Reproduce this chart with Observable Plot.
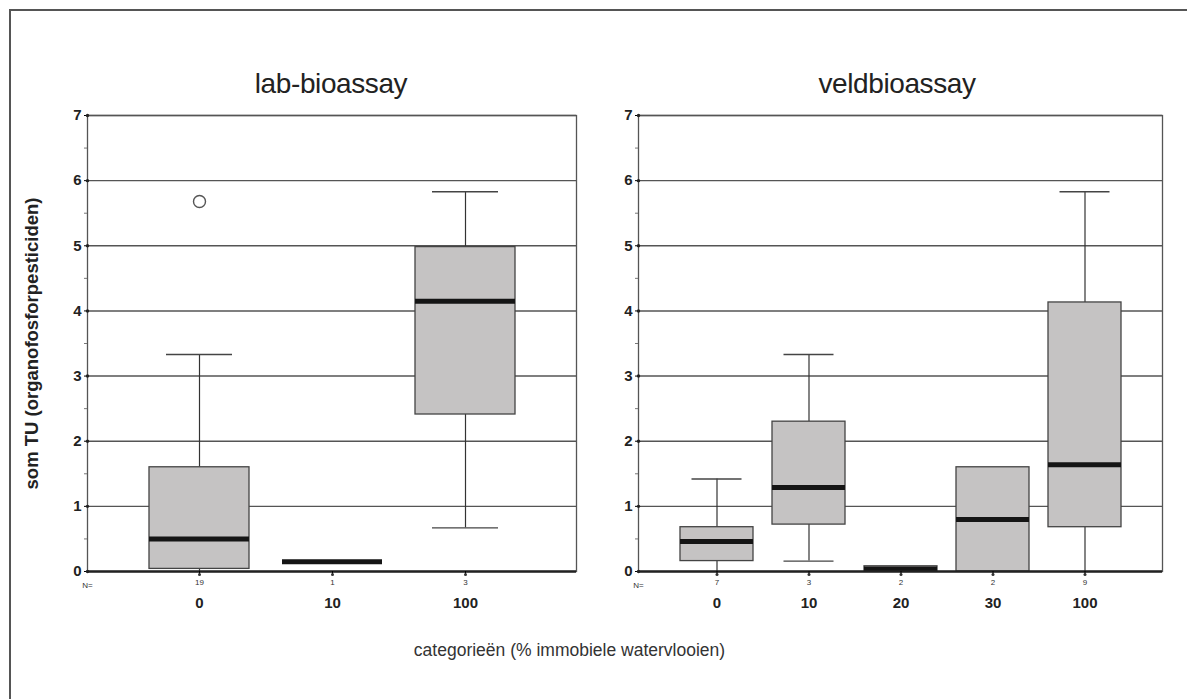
<!DOCTYPE html>
<html>
<head>
<meta charset="utf-8">
<script src="https://cdn.jsdelivr.net/npm/d3@7"></script>
<script src="https://cdn.jsdelivr.net/npm/@observablehq/plot@0.6"></script>
<style>
  html, body { margin: 0; padding: 0; background: #fff; }
  #wrap { position: relative; width: 1187px; height: 699px; overflow: hidden; background: #fff;
          font-family: "Liberation Sans", Arial, sans-serif; }
  #border { position: absolute; left: 9px; top: 9px; width: 1300px; height: 800px;
            border-left: 2px solid #555; border-top: 2px solid #555; }
  .title { position: absolute; top: 68px; font-size: 28px; color: #222; text-align: center;
           letter-spacing: -0.4px; }
  .panel { position: absolute; top: 100px; }
  #xlabel { position: absolute; left: 0; width: 1187px; top: 640px; text-align: center;
            font-size: 17.5px; color: #333; }
  #xlabel span { position: relative; left: -24px; }
</style>
</head>
<body>
<div id="wrap">
  <div id="border"></div>
  <div class="title" id="t1"></div>
  <div class="title" id="t2"></div>
  <div class="panel" id="p1" style="left:0px"></div>
  <div class="panel" id="p2" style="left:600px"></div>
  <div id="xlabel"><span></span></div>
</div>
<script>
// ---------- data ----------
const titles = ["lab-bioassay", "veldbioassay"];
const yLabel = "som TU (organofosforpesticiden)";
const xLabel = "categorieën (% immobiele watervlooien)";
const yTicks = [0, 1, 2, 3, 4, 5, 6, 7];
const yMinorTicks = [0.5, 1.5, 2.5, 3.5, 4.5, 5.5, 6.5];

// lab-bioassay
const labCats = ["0", "10", "100"];
const labN    = [19, 1, 3];
const labLo   = [0, 0.15, 0.67];
const labQ1   = [0.04, 0.15, 2.41];
const labMed  = [0.50, 0.15, 4.15];
const labQ3   = [1.60, 0.15, 4.98];
const labHi   = [3.33, 0.15, 5.83];
const labOutCats = ["0"];
const labOutVals = [5.68];

// veldbioassay
const veldCats = ["0", "10", "20", "30", "100"];
const veldN    = [7, 3, 2, 2, 9];
const veldLo   = [0, 0.16, 0, 0, 0];
const veldQ1   = [0.16, 0.72, 0, 0, 0.68];
const veldMed  = [0.46, 1.29, 0.04, 0.80, 1.64];
const veldQ3   = [0.68, 2.30, 0.08, 1.60, 4.13];
const veldHi   = [1.42, 3.33, 0.08, 1.60, 5.83];
const veldOutCats = [];
const veldOutVals = [];

// ---------- build ----------
function rowsOf(cats, n, lo, q1, med, q3, hi) {
  return cats.map((c, i) => ({cat: c, n: n[i], lo: lo[i], q1: q1[i], med: med[i], q3: q3[i], hi: hi[i]}));
}

function panel(o) {
  const rows = rowsOf(o.cats, o.n, o.lo, o.q1, o.med, o.q3, o.hi);
  const outs = o.outCats.map((c, i) => ({cat: c, v: o.outVals[i]}));
  const nOf = new Map(rows.map(d => [d.cat, d.n]));
  const marks = [
    Plot.frame({stroke: "#555", strokeWidth: 1.3}),
    Plot.ruleY(yTicks.filter(d => d > 0), {stroke: "#555", strokeWidth: 1.4}),
    Plot.ruleX(rows.filter(d => d.hi > d.q3), {x: "cat", y1: "q3", y2: "hi", stroke: "#333", strokeWidth: 1.2}),
    Plot.ruleX(rows.filter(d => d.lo < d.q1), {x: "cat", y1: "lo", y2: "q1", stroke: "#333", strokeWidth: 1.2}),
    Plot.tickY(rows.filter(d => d.hi > d.q3), {x: "cat", y: "hi", stroke: "#444", strokeWidth: 1.4,
      insetLeft: o.capInset, insetRight: o.capInset}),
    Plot.tickY(rows.filter(d => d.lo < d.q1 && d.lo > 0), {x: "cat", y: "lo", stroke: "#444", strokeWidth: 1.4,
      insetLeft: o.capInset, insetRight: o.capInset}),
    Plot.barY(rows.filter(d => d.q3 > d.q1), {x: "cat", y1: "q1", y2: "q3", fill: "#c5c3c3",
      stroke: "#444", strokeWidth: 1.3}),
    Plot.tickY(rows, {x: "cat", y: "med", stroke: "#151515", strokeWidth: 5}),
    Plot.dot(outs, {x: "cat", y: "v", r: 6, stroke: "#555", strokeWidth: 1.4, fill: "none"}),
    Plot.ruleY([0], {stroke: "#222", strokeWidth: 2.5}),
    Plot.axisY({ticks: yMinorTicks, tickSize: 3, tickFormat: () => "", label: null, stroke: "#777"}),
    Plot.axisY({ticks: yTicks, tickSize: 3, tickPadding: 3, tickFormat: d => String(d), label: null,
      fontWeight: "bold", fontSize: 15, fill: "#222"}),
    Plot.dot(yTicks, {y: d => d, frameAnchor: "left", r: 1.7, fill: "#222", stroke: null}),
    Plot.axisX({tickSize: 4, tickPadding: 4, tickFormat: d => String(nOf.get(d)), label: null,
      fontSize: 8, fill: "#333"}),
    Plot.dot(o.cats, {x: d => d, frameAnchor: "bottom", dy: 3, r: 1.5, fill: "#333", stroke: null}),
    Plot.axisX({tickSize: 0, tickPadding: 26, label: null, fontWeight: "bold", fontSize: 15, fill: "#222"}),
    Plot.text(["N="], {frameAnchor: "bottom-left", text: d => d, textAnchor: "middle", lineAnchor: "middle",
      dy: 14, fontSize: 8, fill: "#333"})
  ];
  if (o.yLabel) {
    marks.push(Plot.text([o.yLabel], {frameAnchor: "left", text: d => d, rotate: -90, dx: -55,
      fontWeight: "bold", fontSize: 18.5, fill: "#222", textAnchor: "middle", lineAnchor: "middle"}));
  }
  return Plot.plot({
    width: o.width, height: 520,
    marginLeft: o.marginLeft, marginRight: o.marginRight, marginTop: 15, marginBottom: 49,
    style: {fontFamily: "'Liberation Sans', Arial, sans-serif", fontSize: "15px", background: "transparent", overflow: "visible"},
    x: {type: "band", domain: o.cats, paddingInner: o.pi, paddingOuter: o.po, axis: null},
    y: {domain: [0, 7], axis: null},
    marks
  });
}

document.getElementById("p1").appendChild(panel({
  cats: labCats, n: labN, lo: labLo, q1: labQ1, med: labMed, q3: labQ3, hi: labHi,
  outCats: labOutCats, outVals: labOutVals,
  width: 600, marginLeft: 87, marginRight: 24, pi: 0.25, po: 0.456, capInset: 17, yLabel
}));
document.getElementById("p2").appendChild(panel({
  cats: veldCats, n: veldN, lo: veldLo, q1: veldQ1, med: veldMed, q3: veldQ3, hi: veldHi,
  outCats: veldOutCats, outVals: veldOutVals,
  width: 587, marginLeft: 38, marginRight: 25, pi: 0.21, po: 0.43, capInset: 11.5, yLabel: null
}));

const t1 = document.getElementById("t1");
t1.textContent = titles[0];
t1.style.left = "131px"; t1.style.width = "400px";
const t2 = document.getElementById("t2");
t2.textContent = titles[1];
t2.style.left = "697px"; t2.style.width = "400px";
document.querySelector("#xlabel span").textContent = xLabel;
</script>
</body>
</html>
